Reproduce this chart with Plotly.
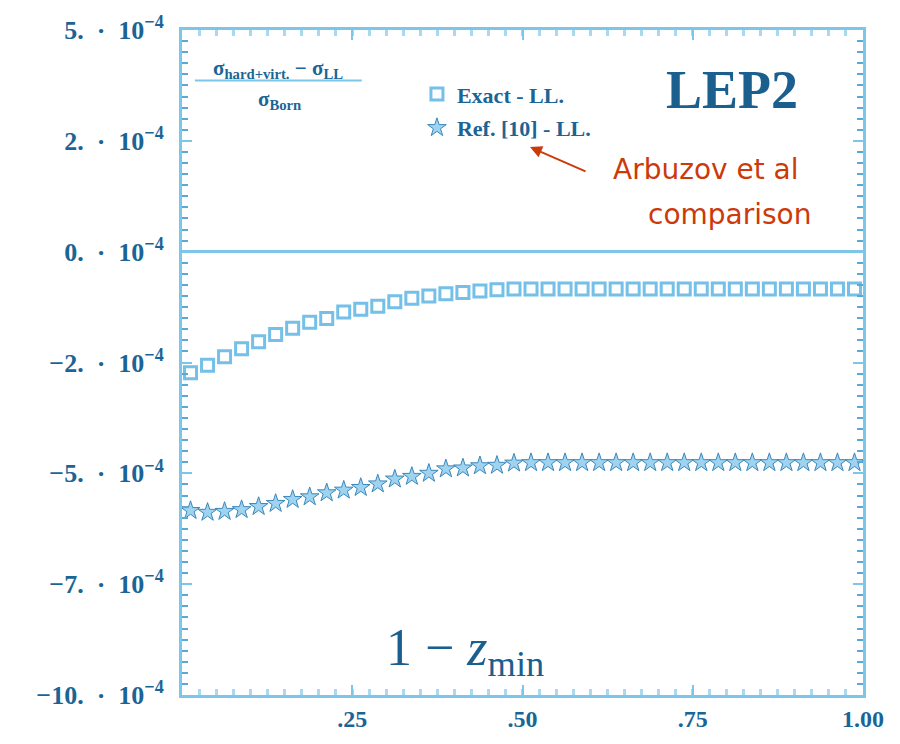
import plotly.graph_objects as go

# x positions (1 - z_min)
x_vals = [0.0125, 0.0375, 0.0625, 0.0875, 0.1125, 0.1375, 0.1625, 0.1875, 0.2125, 0.2375,
          0.2625, 0.2875, 0.3125, 0.3375, 0.3625, 0.3875, 0.4125, 0.4375, 0.4625, 0.4875,
          0.5125, 0.5375, 0.5625, 0.5875, 0.6125, 0.6375, 0.6625, 0.6875, 0.7125, 0.7375,
          0.7625, 0.7875, 0.8125, 0.8375, 0.8625, 0.8875, 0.9125, 0.9375, 0.9625, 0.9875]

# Exact - LL (units of 1e-4)
exact_ll = [-2.73, -2.56, -2.37, -2.19, -2.03, -1.87, -1.73, -1.59, -1.51, -1.36,
            -1.30, -1.23, -1.13, -1.05, -1.00, -0.95, -0.92, -0.89, -0.86, -0.84,
            -0.84, -0.84, -0.84, -0.84, -0.84, -0.84, -0.84, -0.84, -0.84, -0.84,
            -0.84, -0.84, -0.84, -0.84, -0.84, -0.84, -0.84, -0.84, -0.84, -0.84]

# Ref. [10] - LL (units of 1e-4)
ref_ll = [-5.84, -5.88, -5.86, -5.82, -5.75, -5.68, -5.59, -5.53, -5.44, -5.38,
          -5.32, -5.24, -5.13, -5.07, -5.00, -4.90, -4.88, -4.83, -4.82, -4.77,
          -4.76, -4.76, -4.76, -4.76, -4.76, -4.76, -4.76, -4.76, -4.76, -4.76,
          -4.76, -4.76, -4.76, -4.76, -4.76, -4.76, -4.76, -4.76, -4.76, -4.76]

y_tickvals = [5, 2.5, 0, -2.5, -5, -7.5, -10]
y_ticktext = ["<b>5.\u00a0\u00a0·\u00a0\u00a010<sup>−4</sup></b>",
              "<b>2.\u00a0\u00a0·\u00a0\u00a010<sup>−4</sup></b>",
              "<b>0.\u00a0\u00a0·\u00a0\u00a010<sup>−4</sup></b>",
              "<b>−2.\u00a0\u00a0·\u00a0\u00a010<sup>−4</sup></b>",
              "<b>−5.\u00a0\u00a0·\u00a0\u00a010<sup>−4</sup></b>",
              "<b>−7.\u00a0\u00a0·\u00a0\u00a010<sup>−4</sup></b>",
              "<b>−10.\u00a0\u00a0·\u00a0\u00a010<sup>−4</sup></b>"]
x_tickvals = [0.25, 0.5, 0.75, 1.0]
x_ticktext = ["<b>.25</b>", "<b>.50</b>", "<b>.75</b>", "<b>1.00</b>"]

FRAME = "#7cc6ea"
TEXT = "#1b6596"
RED = "#cc3a0a"
SERIF = "Liberation Serif, DejaVu Serif, serif"

fig = go.Figure()
fig.add_trace(go.Scatter(
    x=x_vals, y=exact_ll, mode="markers", name="<b>Exact - LL.</b>",
    legendgroup="a",
    marker=dict(symbol="square-open", size=12, color="#74c0e8", line=dict(width=3, color="#74c0e8")),
))
fig.add_trace(go.Scatter(
    x=x_vals, y=ref_ll, mode="markers", name="<b>Ref. [10] - LL.</b>",
    legendgroup="b",
    marker=dict(symbol="star", size=14, color="#9fd3ef", line=dict(width=1, color="#3a88bb")),
))

axis_common = dict(
    showline=True, linecolor=FRAME, linewidth=3, mirror="allticks",
    ticks="inside", ticklen=10, tickwidth=2, tickcolor=FRAME,
    showgrid=False,
)

fig.update_xaxes(
    range=[0, 1], tickvals=x_tickvals, ticktext=x_ticktext,
    zeroline=False,
    tickfont=dict(family=SERIF, size=24, color=TEXT),
    minor=dict(ticks="inside", ticklen=6, tickwidth=3, tickcolor="#a9d9f2", dtick=0.025, tick0=0),
    **axis_common,
)
fig.update_yaxes(
    range=[-10, 5], tickvals=y_tickvals, ticktext=y_ticktext,
    zeroline=True, zerolinecolor=FRAME, zerolinewidth=3,
    ticklabelstandoff=10,
    tickfont=dict(family=SERIF, size=26, color=TEXT),
    minor=dict(ticks="inside", ticklen=6, tickwidth=2, tickcolor="#5aa8d6", dtick=0.25, tick0=0),
    **axis_common,
)

annotations = [
    dict(x=0.141, y=0.942, xref="paper", yref="paper", xanchor="center", yanchor="middle",
         text="<b>σ<sub>hard+virt.</sub> − σ<sub>LL</sub></b>", showarrow=False,
         font=dict(family=SERIF, size=21, color=TEXT)),
    dict(x=0.143, y=0.894, xref="paper", yref="paper", xanchor="center", yanchor="middle",
         text="<b>σ<sub>Born</sub></b>", showarrow=False,
         font=dict(family=SERIF, size=21, color=TEXT)),
    dict(x=0.808, y=0.91, xref="paper", yref="paper", xanchor="center", yanchor="middle",
         text="<b>LEP2</b>", showarrow=False,
         font=dict(family=SERIF, size=54, color="#1b5f8e")),
    dict(x=0.416, y=0.066, xref="paper", yref="paper", xanchor="center", yanchor="middle",
         text="1 − <i>z</i><sub>min</sub>", showarrow=False,
         font=dict(family=SERIF, size=52, color="#1b5f8e")),
    dict(x=0.511, y=2.36, xref="x", yref="y", text="", showarrow=True,
         ax=57, ay=25, arrowhead=2, arrowsize=1.2, arrowwidth=2, arrowcolor=RED),
    dict(x=0.769, y=0.79, xref="paper", yref="paper", xanchor="center", yanchor="middle",
         text="Arbuzov et al", showarrow=False,
         font=dict(family="DejaVu Sans, sans-serif", size=28, color=RED)),
    dict(x=0.805, y=0.722, xref="paper", yref="paper", xanchor="center", yanchor="middle",
         text="comparison", showarrow=False,
         font=dict(family="DejaVu Sans, sans-serif", size=28, color=RED)),
]

fig.update_layout(
    width=900, height=744,
    margin=dict(l=182, r=37, t=24, b=39),
    paper_bgcolor="white", plot_bgcolor="white",
    annotations=annotations,
    shapes=[dict(type="line", xref="paper", yref="paper", x0=0.019, x1=0.264, y0=0.924, y1=0.924,
                 line=dict(color=FRAME, width=2))],
    showlegend=True,
    legend=dict(x=0.345, y=0.935, xanchor="left", yanchor="top",
                bgcolor="rgba(0,0,0,0)", tracegroupgap=2,
                font=dict(family=SERIF, size=22, color=TEXT)),
)

fig.write_html("out.html")
